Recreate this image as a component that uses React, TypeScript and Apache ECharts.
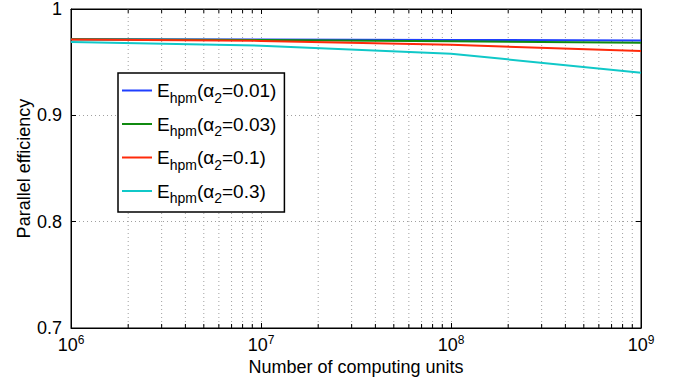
import React, { useEffect, useRef } from "react";
import * as echarts from "echarts";

const xValues = [1e6, 1e7, 1e8, 1e9];
const seriesNames = ["a001", "a003", "a01", "a03"];
const alphaLabels = ["0.01", "0.03", "0.1", "0.3"];
const seriesColors = ["#1f3fff", "#108a10", "#ff2a0a", "#10c8c8"];
const blueValues = [0.9715, 0.9712, 0.9709, 0.9704];
const greenValues = [0.9715, 0.9708, 0.9697, 0.9682];
const redValues = [0.9712, 0.97, 0.9663, 0.9605];
const cyanValues = [0.969, 0.9655, 0.958, 0.94];
const minorX = [
  2e6, 3e6, 4e6, 5e6, 6e6, 7e6, 8e6, 9e6,
  2e7, 3e7, 4e7, 5e7, 6e7, 7e7, 8e7, 9e7,
  2e8, 3e8, 4e8, 5e8, 6e8, 7e8, 8e8, 9e8,
];
const yTicks = [0.7, 0.8, 0.9, 1];

const FONT = "'Liberation Sans', Arial, Helvetica, sans-serif";

export default function App() {
  const ref = useRef<HTMLDivElement>(null);
  useEffect(() => {
    if (!ref.current) return;
    const chart = echarts.init(ref.current, null, { renderer: "svg" });
    const allValues = [blueValues, greenValues, redValues, cyanValues];
    const lineSeries = allValues.map((vals, i) => ({
      name: seriesNames[i],
      type: "line",
      symbol: "none",
      z: 5,
      data: vals.map((v, j) => [xValues[j], v]),
      lineStyle: { color: seriesColors[i], width: 2 },
      itemStyle: { color: seriesColors[i] },
    }));
    const gridSeries = {
      type: "custom",
      silent: true,
      z: 1,
      data: minorX.map((x) => [x, 0.7]),
      renderItem: (params: any, api: any) => {
        const x = api.value(0);
        const top = api.coord([x, 1]);
        const bot = api.coord([x, 0.7]);
        return {
          type: "group",
          children: [
            {
              type: "line",
              shape: { x1: top[0], y1: top[1], x2: bot[0], y2: bot[1] },
              style: { stroke: "#a0a0a0", lineWidth: 1, lineDash: [1, 3] },
            },
            {
              type: "line",
              shape: { x1: top[0], y1: top[1], x2: top[0], y2: top[1] + 4 },
              style: { stroke: "#000", lineWidth: 1 },
            },
            {
              type: "line",
              shape: { x1: bot[0], y1: bot[1], x2: bot[0], y2: bot[1] - 4 },
              style: { stroke: "#000", lineWidth: 1 },
            },
          ],
        };
      },
    };
    chart.setOption({
      animation: false,
      backgroundColor: "#fff",
      textStyle: { fontFamily: FONT },
      grid: {
        left: 71,
        right: 34,
        top: 8,
        bottom: 56,
        show: true,
        borderColor: "#000",
        borderWidth: 1,
        backgroundColor: "transparent",
      },
      legend: {
        left: 118,
        top: 73,
        orient: "vertical",
        data: seriesNames,
        backgroundColor: "#fff",
        borderColor: "#000",
        borderWidth: 1.5,
        borderRadius: 0,
        padding: [8, 8, 7, 4],
        itemWidth: 30,
        itemHeight: 2,
        icon: "rect",
        itemGap: 10,
        selectedMode: false,
        formatter: (name: string) => {
          const i = seriesNames.indexOf(name);
          return `{n|E}{s|hpm}{n|(α}{s|2}{n|=${alphaLabels[i]})}`;
        },
        textStyle: {
          fontFamily: FONT,
          color: "#000",
          rich: {
            n: { fontSize: 19, lineHeight: 28, verticalAlign: "middle", fontFamily: FONT, color: "#000" },
            s: { fontSize: 14, lineHeight: 6, verticalAlign: "bottom", fontFamily: FONT, color: "#000" },
          },
        },
      },
      xAxis: [
        {
          type: "log",
          logBase: 10,
          min: 1e6,
          max: 1e9,
          name: "Number of computing units",
          nameLocation: "middle",
          nameGap: 30,
          nameMoveOverlap: false,
          nameTextStyle: { fontSize: 18, color: "#000", fontFamily: FONT },
          axisLine: { show: true, lineStyle: { color: "#000" } },
          axisTick: { show: true, inside: true, length: 5, lineStyle: { color: "#000" } },
          splitLine: { show: true, lineStyle: { color: "#a0a0a0", type: [1, 3] } },
          axisLabel: {
            margin: 6,
            formatter: (v: number) => `{b|10}{p|${Math.round(Math.log10(v))}}`,
            rich: {
              b: { fontSize: 18, lineHeight: 22, verticalAlign: "middle", color: "#000", fontFamily: FONT },
              p: { fontSize: 12, lineHeight: 8, verticalAlign: "top", color: "#000", fontFamily: FONT },
            },
          },
        },
        {
          type: "log",
          logBase: 10,
          min: 1e6,
          max: 1e9,
          position: "top",
          axisLine: { show: true, lineStyle: { color: "#000" } },
          axisTick: { show: true, inside: true, length: 5, lineStyle: { color: "#000" } },
          axisLabel: { show: false },
          splitLine: { show: false },
        },
      ],
      yAxis: [
        {
          type: "value",
          min: 0.7,
          max: 1,
          interval: 0.1,
          name: "Parallel efficiency",
          nameLocation: "middle",
          nameGap: 38,
          nameMoveOverlap: false,
          nameTextStyle: { fontSize: 18, color: "#000", fontFamily: FONT },
          axisLine: { show: true, lineStyle: { color: "#000" } },
          axisTick: { show: true, inside: true, length: 5, lineStyle: { color: "#000" } },
          splitLine: { show: true, lineStyle: { color: "#a0a0a0", type: [1, 3] } },
          axisLabel: {
            margin: 9,
            fontSize: 18,
            color: "#000",
            fontFamily: FONT,
            formatter: (v: number) => {
              const t = yTicks.find((y) => Math.abs(y - v) < 1e-6);
              return t === undefined ? "" : String(t);
            },
          },
        },
        {
          type: "value",
          min: 0.7,
          max: 1,
          interval: 0.1,
          position: "right",
          axisLine: { show: true, lineStyle: { color: "#000" } },
          axisTick: { show: true, inside: true, length: 5, lineStyle: { color: "#000" } },
          axisLabel: { show: false },
          splitLine: { show: false },
        },
      ],
      series: [gridSeries, ...lineSeries],
    });
    return () => chart.dispose();
  }, []);
  return <div ref={ref} style={{ width: 675, height: 384, position: "absolute", left: 0, top: 0 }} />;
}
